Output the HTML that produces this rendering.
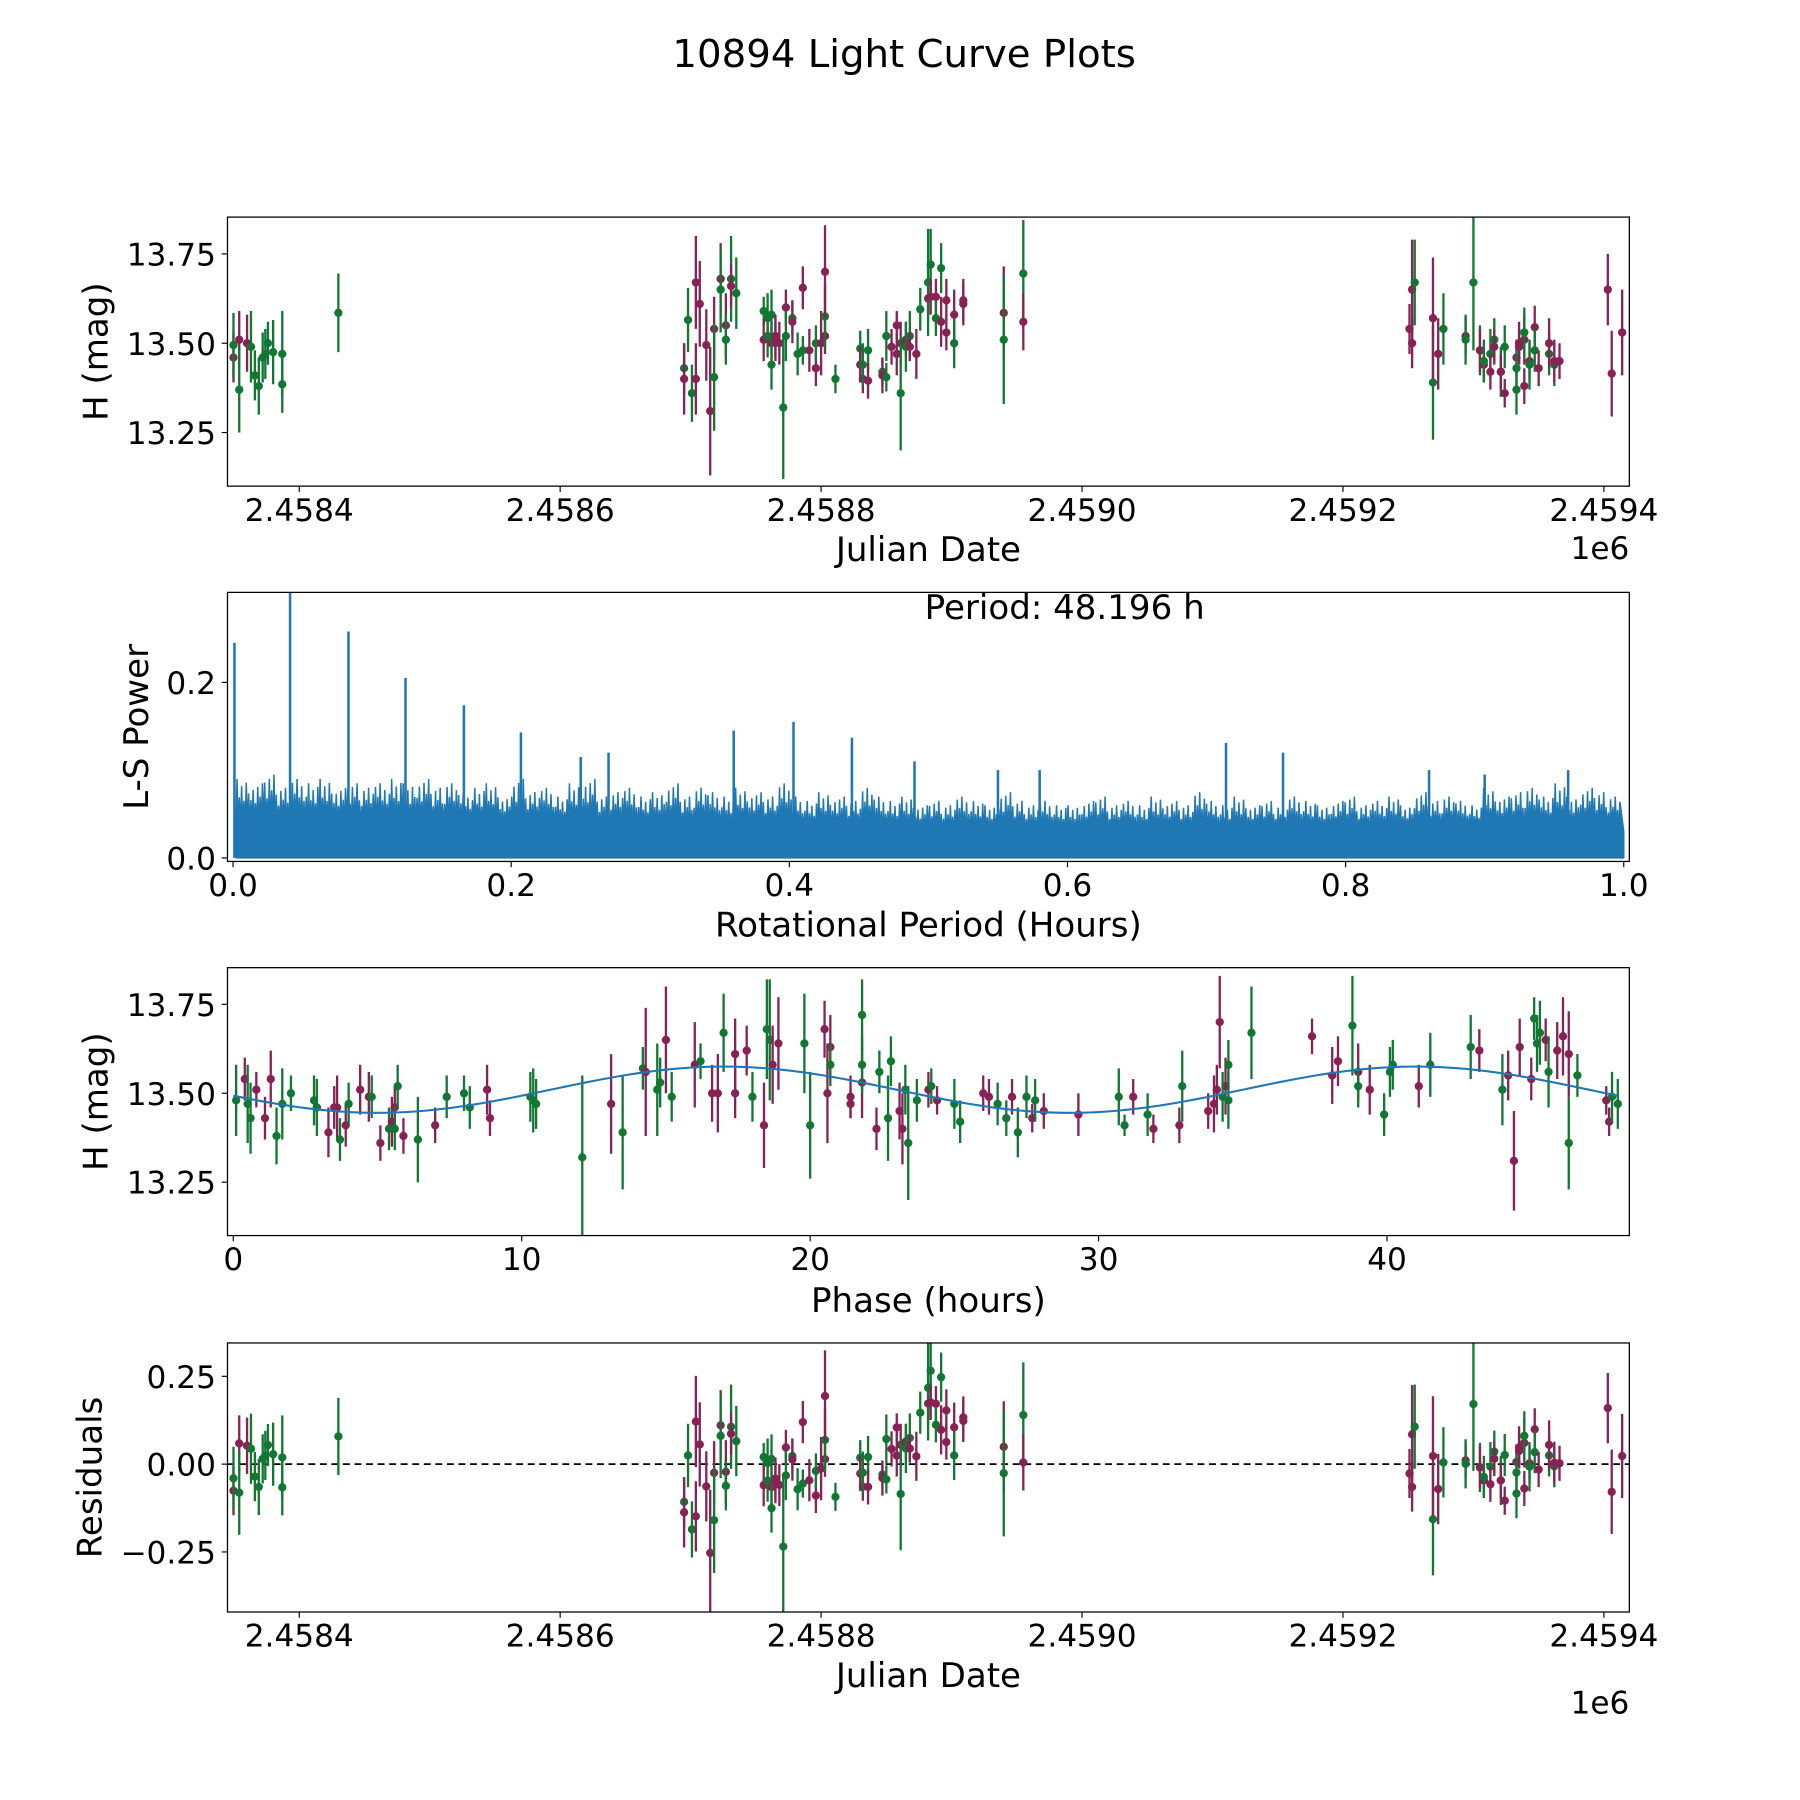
<!DOCTYPE html>
<html><head><meta charset="utf-8"><style>
html,body{margin:0;padding:0;background:#fff}
svg{display:block;font-family:"DejaVu Sans","Liberation Sans",sans-serif}
</style></head><body>
<svg id="fig" xmlns="http://www.w3.org/2000/svg" width="1800" height="1800" viewBox="0 0 1558.8 1558.8">
<rect width="1558.8" height="1558.8" fill="#fff"/>
<text x="783" y="58" font-size="33.5" text-anchor="middle">10894 Light Curve Plots</text>
</svg>
<script>
// ---------- Panel 1 data (JD - 2458000) ----------
const jd = [349.6,349.6,354,354,360,363,366,369,372,374,376,380,387,387,430,
695,695,698,701,704,704,707,712,715,718,718,723,723,727,727,731,731,735,
756,756,759,759,762,762,762,765,765,768,771,773,773,778,778,782,786,786,791,796,796,800,803,803,803,811,
830,830,832,832,836,836,847,847,850,850,854,858,858,861,861,865,865,868,868,873,876,882,882,884,884,888,888,892,892,896,896,902,902,909,909,940,940,955,955,
1251,1253,1253,1255,1269,1269,1273,1277,1294,1294,1300,1305,1305,1308,1308,1313,1313,1316,1316,1321,1321,1324,1324,1333,1333,1333,1335,1335,1339,1339,1339,1343,1343,1347,1347,1350,1358,1358,1362,1362,1366,1403,1406,1414];
const mag = [13.46,13.495,13.51,13.37,13.50,13.49,13.41,13.38,13.46,13.47,13.50,13.475,13.47,13.385,13.585,
13.43,13.40,13.565,13.36,13.40,13.67,13.61,13.495,13.31,13.54,13.405,13.68,13.65,13.55,13.51,13.68,13.66,13.64,
13.59,13.51,13.57,13.52,13.50,13.44,13.58,13.51,13.52,13.50,13.32,13.60,13.52,13.57,13.56,13.47,13.655,13.48,13.48,13.43,13.50,13.50,13.52,13.575,13.70,13.40,
13.485,13.44,13.40,13.44,13.48,13.395,13.42,13.41,13.52,13.405,13.49,13.55,13.47,13.50,13.36,13.51,13.49,13.52,13.49,13.47,13.595,13.625,13.67,13.72,13.63,13.63,13.57,13.56,13.71,13.62,13.53,13.58,13.50,13.61,13.62,13.585,13.51,13.695,13.56,
13.54,13.65,13.50,13.67,13.39,13.57,13.47,13.54,13.52,13.51,13.67,13.48,13.48,13.44,13.45,13.47,13.42,13.51,13.49,13.42,13.42,13.49,13.36,13.46,13.43,13.37,13.49,13.50,13.51,13.53,13.38,13.45,13.44,13.545,13.48,13.43,13.47,13.50,13.44,13.45,13.45,13.65,13.415,13.53];
const err = [.07,.09,.08,.12,.08,.1,.07,.08,.07,.07,.06,.09,.12,.08,.11,
.07,.1,.09,.08,.1,.13,.12,.1,.18,.09,.15,.1,.12,.09,.07,.12,.06,.1,
.04,.06,.07,.06,.06,.07,.07,.06,.06,.06,.2,.05,.07,.05,.06,.06,.06,.04,.06,.05,.05,.09,.05,.09,.13,.04,
.05,.05,.04,.06,.06,.05,.04,.05,.07,.04,.05,.04,.06,.06,.16,.05,.07,.07,.04,.07,.06,.06,.15,.1,.05,.05,.05,.07,.07,.06,.05,.07,.07,.06,.06,.13,.18,.15,.08,
.07,.14,.07,.12,.16,.17,.1,.1,.05,.07,.19,.07,.06,.05,.06,.07,.05,.06,.05,.07,.05,.06,.04,.05,.07,.07,.05,.06,.07,.07,.05,.05,.07,.06,.06,.05,.06,.07,.06,.06,.05,.1,.12,.12];
const band = [1,0,1,0,1,0,0,0,0,0,0,0,0,0,0,
0,1,0,0,1,1,1,1,1,1,0,1,0,1,0,0,1,0,
0,1,0,0,1,0,0,1,1,1,0,1,0,0,1,0,1,0,1,1,0,1,1,0,1,0,
0,1,1,0,0,1,0,1,0,0,1,1,1,1,0,1,0,0,1,1,0,1,0,0,1,1,0,1,0,1,1,1,0,1,1,1,0,0,1,
1,1,1,0,0,1,1,0,1,0,0,0,1,1,0,0,1,0,1,0,1,0,1,1,0,0,1,1,1,0,1,1,0,1,0,1,0,1,0,1,1,1,1,1];

// ---------- Panel 2 data ----------
const lsPeakPeriods = [0.001,0.041,0.083,0.124,0.166,0.207,0.25,0.27,0.36,0.403,0.445,0.49,0.55,0.58,0.714,0.755,0.86,0.9,0.96];
const lsPeakPowers  = [0.245,0.34,0.258,0.205,0.174,0.143,0.115,0.12,0.145,0.155,0.137,0.11,0.10,0.10,0.131,0.12,0.10,0.095,0.10];
const lsNoiseTop = [.09,.085,.095,.08,.09,.085,.09,.08,.085,.08,
.085,.09,.085,.09,.08,.085,.075,.08,.085,.07,
.09,.075,.08,.07,.085,.09,.07,.075,.08,.07,
.075,.085,.07,.08,.075,.07,.08,.075,.07,.085,
.07,.065,.075,.07,.065,.08,.07,.065,.07,.06,
.065,.06,.07,.065,.06,.075,.065,.06,.065,.06,
.06,.065,.07,.06,.065,.06,.07,.065,.06,.075,
.065,.06,.07,.06,.065,.06,.07,.065,.06,.065,
.07,.06,.065,.07,.06,.075,.065,.07,.065,.06,
.08,.07,.075,.08,.07,.085,.07,.08,.075,.07];
const lsNoiseFloor = [.035,.034,.032,.03,.028,.026,.025,.025,.026,.028,.03];

// ---------- Panel 3 data ----------
const phase = [0.1,0.4,0.5,0.6,0.8,1.1,1.3,1.5,1.7,2.0,2.8,2.9,3.3,3.5,3.6,3.7,3.9,4.0,4.4,4.7,4.8,5.1,5.4,5.5,5.6,5.7,5.6,5.9,6.4,7.0,7.4,8.0,8.2,8.8,8.9,10.3,10.4,10.5,12.1,13.1,13.5,14.2,14.3,14.7,14.8,15.0,15.2,16.0,16.2,16.6,16.8,17.0,17.4,17.4,17.8,18.0,18.4,18.5,18.6,18.7,18.9,19.8,20.0,20.5,20.6,20.7,20.7,21.4,21.4,21.8,21.8,21.8,22.3,22.4,22.7,22.8,23.1,23.2,23.3,23.4,23.7,24.1,24.2,24.4,25.0,25.2,26.0,26.2,26.5,26.8,27.0,27.2,27.5,27.7,27.8,28.1,29.3,30.7,30.9,31.2,31.7,31.9,32.8,32.9,33.8,34.0,34.1,34.2,34.4,34.3,34.5,34.5,35.3,37.4,38.1,38.3,38.8,39.0,39.0,39.4,39.9,40.1,40.2,41.1,41.5,42.9,43.2,44.0,44.2,44.4,44.6,45.0,45.1,45.2,45.3,45.5,45.6,45.9,46.1,46.3,46.3,46.6,47.6,47.7,47.8,48.0];
const phaseMag = [13.48,13.54,13.47,13.43,13.51,13.43,13.54,13.38,13.47,13.50,13.48,13.46,13.39,13.46,13.46,13.37,13.41,13.47,13.51,13.49,13.49,13.36,13.40,13.42,13.46,13.52,13.40,13.38,13.37,13.41,13.49,13.50,13.46,13.51,13.43,13.49,13.48,13.47,13.32,13.47,13.39,13.57,13.56,13.51,13.53,13.65,13.49,13.58,13.59,13.50,13.50,13.67,13.61,13.50,13.62,13.49,13.41,13.68,13.65,13.58,13.64,13.64,13.41,13.68,13.50,13.63,13.58,13.47,13.49,13.72,13.53,13.58,13.40,13.56,13.43,13.59,13.45,13.40,13.51,13.36,13.48,13.51,13.52,13.48,13.47,13.42,13.50,13.49,13.47,13.43,13.49,13.39,13.49,13.43,13.48,13.45,13.44,13.49,13.41,13.49,13.44,13.40,13.41,13.52,13.45,13.47,13.51,13.70,13.52,13.49,13.58,13.48,13.67,13.66,13.55,13.59,13.69,13.56,13.52,13.51,13.44,13.56,13.58,13.52,13.58,13.63,13.62,13.51,13.55,13.31,13.63,13.54,13.71,13.64,13.67,13.65,13.56,13.62,13.66,13.61,13.36,13.55,13.48,13.42,13.49,13.47];
const phaseErr = [.1,.06,.11,.1,.05,.06,.08,.08,.1,.05,.07,.08,.07,.06,.09,.06,.06,.06,.07,.07,.06,.05,.06,.07,.06,.06,.06,.05,.12,.05,.06,.05,.06,.07,.05,.07,.09,.07,.23,.14,.16,.06,.18,.13,.07,.15,.07,.12,.05,.08,.11,.11,.1,.07,.07,.07,.12,.14,.17,.11,.13,.14,.15,.08,.14,.09,.06,.04,.06,.1,.1,.08,.06,.06,.12,.07,.08,.1,.07,.16,.06,.05,.05,.04,.07,.06,.05,.05,.06,.05,.05,.07,.06,.04,.06,.05,.06,.08,.03,.05,.06,.04,.05,.1,.05,.08,.07,.13,.08,.07,.07,.08,.13,.05,.08,.07,.14,.08,.06,.07,.06,.07,.07,.06,.09,.09,.06,.1,.07,.14,.08,.06,.06,.08,.09,.06,.1,.08,.11,.12,.13,.06,.04,.04,.07,.07];
const phaseBand = [0,1,0,0,1,1,1,0,0,0,0,0,1,1,1,0,1,0,1,1,0,1,0,1,1,0,0,1,0,1,0,0,0,1,1,0,0,0,0,1,0,0,1,0,0,1,0,1,0,1,1,0,1,1,1,0,1,0,0,1,1,0,0,1,1,1,0,1,1,0,1,0,1,0,0,0,1,1,0,0,0,1,0,1,0,0,1,1,0,0,1,0,0,1,0,1,1,0,0,1,0,1,1,0,1,1,1,1,1,0,0,0,0,1,1,1,0,1,0,1,0,0,0,1,0,0,1,0,1,1,1,1,0,0,0,1,0,1,1,1,0,0,1,1,0,0];

// ---------- Model (fit) ----------
const periodHours = 48.196;
const modelMean = 13.51, modelAmp = 0.065, modelPeakPhase = 17, epoch = 364.771;
function model(ph){ return modelMean + modelAmp*Math.cos(2*Math.PI*(ph-modelPeakPhase)/24); }
function foldPhase(t){ let p=((t-epoch)*24)%periodHours; if(p<0)p+=periodHours; return p; }

// ---------- Drawing ----------
const NS="http://www.w3.org/2000/svg", svg=document.getElementById('fig');
const GREEN="#117733", PURPLE="#882255", BLUE="#1f77b4";
const TICK_FS=27, LABEL_FS=29.5;
function el(tag,attrs,parent){const e=document.createElementNS(NS,tag);for(const k in attrs)e.setAttribute(k,attrs[k]);(parent||svg).appendChild(e);return e;}
function txt(s,attrs,parent){const e=el('text',attrs,parent);e.textContent=s;return e;}

function makeAxes(name,L,R,T,B,xmin,xmax,ymin,ymax){
  const g=el('g',{});
  
  
  const ax={g,L,R,T,B,
    x:v=>L+(v-xmin)/(xmax-xmin)*(R-L),
    y:v=>B-(v-ymin)/(ymax-ymin)*(B-T)};
  const cp='clip-'+name;
  const c=el('clipPath',{id:cp},g); el('rect',{x:L,y:T,width:R-L,height:B-T},c);
  ax.plot=el('g',{'clip-path':'url(#'+cp+')'},g);
  return ax;
}
function frame(ax){el('rect',{x:ax.L,y:ax.T,width:ax.R-ax.L,height:ax.B-ax.T,fill:'none',stroke:'#000','stroke-width':1.1},ax.g);}
function xTicks(ax,vals,labels){
  vals.forEach((v,i)=>{const X=ax.x(v);
    el('line',{x1:X,x2:X,y1:ax.B,y2:ax.B+5,stroke:'#000','stroke-width':1},ax.g);
    const t=txt(labels[i],{x:X,y:ax.B+30,'font-size':TICK_FS,'text-anchor':'middle'},ax.g);
    
    });
}
function yTicks(ax,vals,labels){
  vals.forEach((v,i)=>{const Y=ax.y(v);
    el('line',{x1:ax.L-5,x2:ax.L,y1:Y,y2:Y,stroke:'#000','stroke-width':1},ax.g);
    const t=txt(labels[i],{x:ax.L-10,y:Y+10,'font-size':TICK_FS,'text-anchor':'end'},ax.g);
    
    });
}
function xLabel(ax,s,y){const t=txt(s,{x:(ax.L+ax.R)/2,y:y,'font-size':LABEL_FS,'text-anchor':'middle'},ax.g);
  
  }
function yLabel(ax,s,x){const cy=(ax.T+ax.B)/2;const t=txt(s,{x:x,y:cy,'font-size':LABEL_FS,'text-anchor':'middle',transform:`rotate(-90 ${x} ${cy})`},ax.g);
  
  }
function errPoint(ax,xv,yv,ev,b){
  const col=b?PURPLE:GREEN, X=ax.x(xv);
  const g=el('g',{},ax.plot);
  
  
  el('line',{x1:X,x2:X,y1:ax.y(yv-ev),y2:ax.y(yv+ev),stroke:col,'stroke-width':2},g);
  el('circle',{cx:X,cy:ax.y(yv),r:3.6,fill:col},g);
}

// Panel 1
const a1=makeAxes('light-curve-panel',197,1411,188,421,345,1419.5,13.10,13.853);
for(let i=0;i<jd.length;i++) errPoint(a1,jd[i],mag[i],err[i],band[i]);
frame(a1);
const jdTicks=[400,600,800,1000,1200,1400], jdLabels=['2.4584','2.4586','2.4588','2.4590','2.4592','2.4594'];
xTicks(a1,jdTicks,jdLabels);
yTicks(a1,[13.25,13.5,13.75],['13.25','13.50','13.75']);
xLabel(a1,'Julian Date',486);
txt('1e6',{x:1411,y:484,'font-size':TICK_FS,'text-anchor':'end'},a1.g);
yLabel(a1,'H (mag)',93);

// Panel 2
const a2=makeAxes('periodogram-panel',197,1411,513,746,-0.004,1.004,-0.004,0.3026);
{
  const n=lsNoiseTop.length, w=1/n, sub=[1,0.62,0.85,0.55,0.92,0.7];
  const floorAt=p=>{const f=Math.max(0,Math.min(1,p))*(lsNoiseFloor.length-1),i=Math.min(Math.floor(f),lsNoiseFloor.length-2);return lsNoiseFloor[i]+(lsNoiseFloor[i+1]-lsNoiseFloor[i])*(f-i);};
  let d=`M${a2.x(0.002)},${a2.y(0)}`;
  for(let i=0;i<n;i++){
    const p0=0.002+i*w*0.996;
    for(let k=0;k<sub.length;k++){
      const pa=p0+w*k/sub.length, fl=floorAt(pa), top=fl+(lsNoiseTop[i]-fl)*sub[(k+i)%sub.length];
      d+=` L${a2.x(pa)},${a2.y(fl)} L${a2.x(pa+w/sub.length*0.5)},${a2.y(top)}`;
    }
  }
  d+=` L${a2.x(1.0)},${a2.y(floorAt(1))} L${a2.x(1.0)},${a2.y(0)} Z`;
  const area=el('path',{d,fill:BLUE,stroke:BLUE,'stroke-width':1.3,'stroke-linejoin':'bevel'},a2.plot);
  
  
  lsPeakPeriods.forEach((p,i)=>{
    const l=el('line',{x1:a2.x(p),x2:a2.x(p),y1:a2.y(0),y2:a2.y(lsPeakPowers[i]),stroke:BLUE,'stroke-width':2.2},a2.plot);
    
    
  });
}
frame(a2);
xTicks(a2,[0,0.2,0.4,0.6,0.8,1.0],['0.0','0.2','0.4','0.6','0.8','1.0']);
yTicks(a2,[0,0.2],['0.0','0.2']);
xLabel(a2,'Rotational Period (Hours)',811);
yLabel(a2,'L-S Power',128);
{const t=txt('Period: 48.196 h',{x:922,y:536,'font-size':LABEL_FS,'text-anchor':'middle'},a2.g);
 
 }

// Panel 3
const a3=makeAxes('phase-folded-panel',197,1411,838,1070,-0.2,48.4,13.10,13.853);
for(let i=0;i<phase.length;i++) errPoint(a3,phase[i],phaseMag[i],phaseErr[i],phaseBand[i]);
{let d='';for(let k=0;k<=200;k++){const p=k*48/200;d+=(k?' L':'M')+a3.x(p)+','+a3.y(model(p));}
 const m=el('path',{d,fill:'none',stroke:BLUE,'stroke-width':1.8},a3.plot);
 
 }
frame(a3);
xTicks(a3,[0,10,20,30,40],['0','10','20','30','40']);
yTicks(a3,[13.25,13.5,13.75],['13.25','13.50','13.75']);
xLabel(a3,'Phase (hours)',1136);
yLabel(a3,'H (mag)',93);

// Panel 4
const a4=makeAxes('residuals-panel',197,1411,1163,1396,345,1419.5,-0.421,0.345);
{const z=el('line',{x1:a4.L,x2:a4.R,y1:a4.y(0),y2:a4.y(0),stroke:'#000','stroke-width':1.6,'stroke-dasharray':'6,4'},a4.plot);
 
 }
for(let i=0;i<jd.length;i++) errPoint(a4,jd[i],mag[i]-model(foldPhase(jd[i])),err[i],band[i]);
frame(a4);
xTicks(a4,jdTicks,jdLabels);
yTicks(a4,[-0.25,0,0.25],['\u22120.25','0.00','0.25']);
xLabel(a4,'Julian Date',1461);
txt('1e6',{x:1411,y:1484,'font-size':TICK_FS,'text-anchor':'end'},a4.g);
yLabel(a4,'Residuals',88);
</script>
</body></html>
